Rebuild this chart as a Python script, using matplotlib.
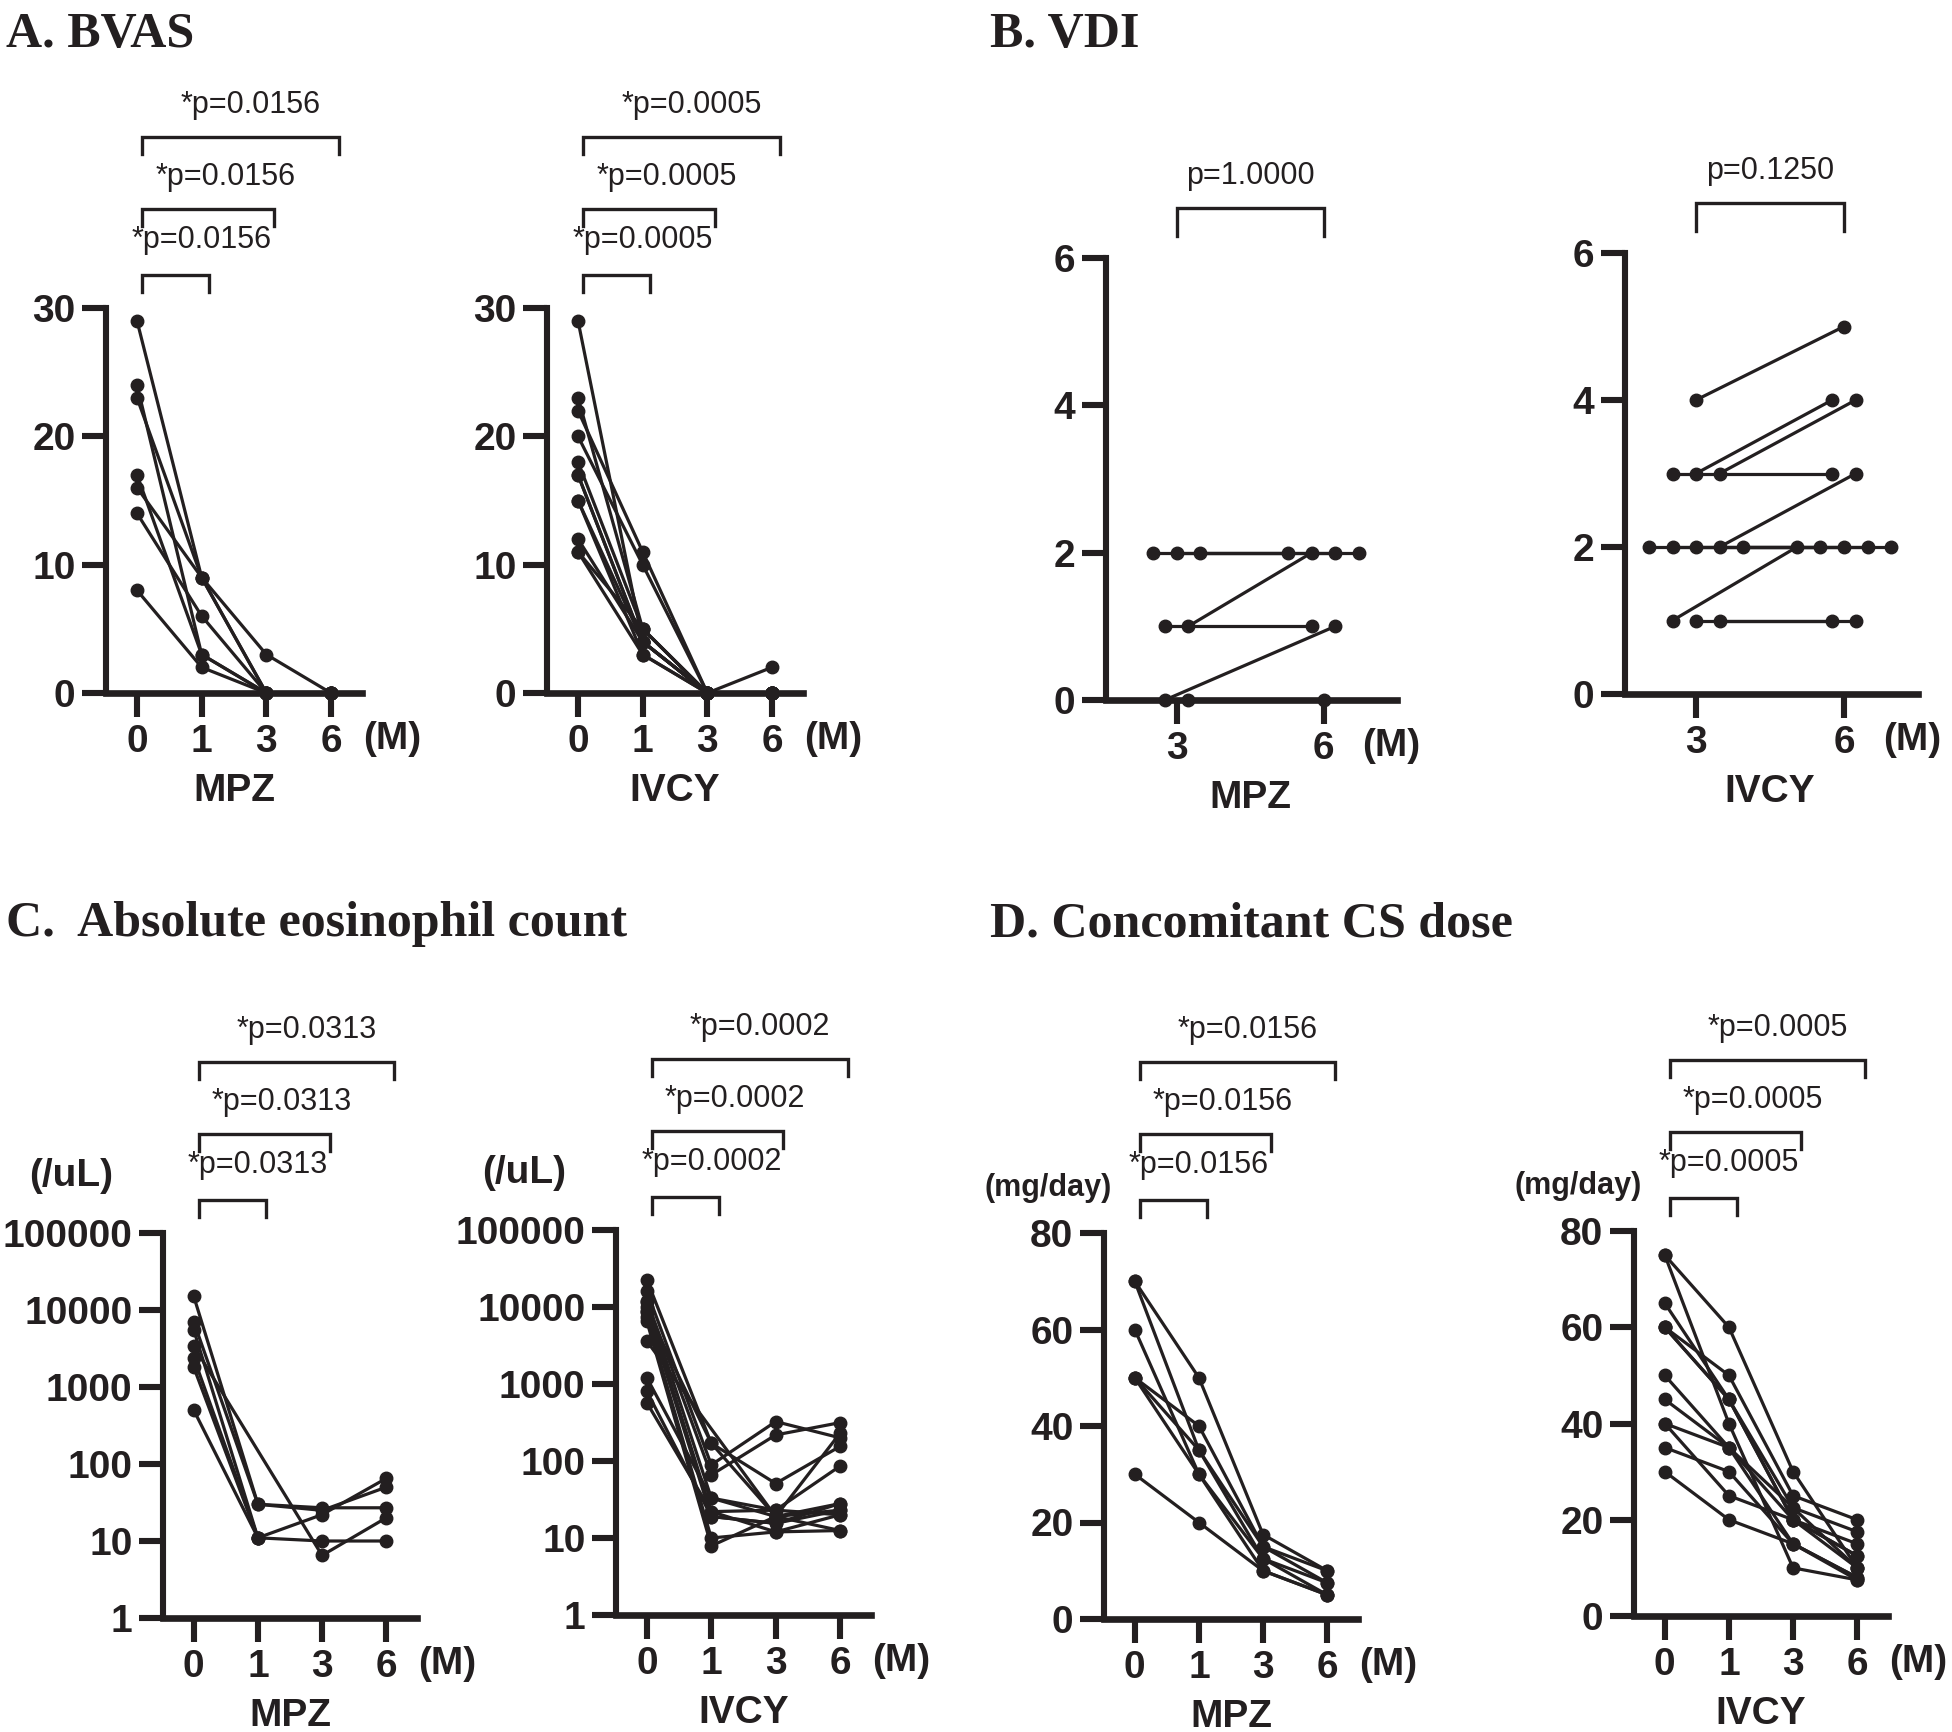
import numpy as np
import matplotlib
matplotlib.use("Agg")
import matplotlib.pyplot as plt
from matplotlib.transforms import blended_transform_factory

W, H = 1952, 1732
INK = "#231f20"
SANS = "Liberation Sans"
SERIF = "Liberation Serif"

months = ["0", "1", "3", "6"]
vdi_months = ["3", "6"]

# one row per patient, columns = month 0, 1, 3, 6
bvas_mpz = [[29, 9, 3, 0], [24, 3, 0, 0], [23, 9, 0, 0], [17, 3, 0, 0],
            [16, 9, 0, 0], [14, 6, 0, 0], [8, 2, 0, 0]]
bvas_ivcy = [[29, 4, 0, 0], [23, 5, 0, 0], [22, 11, 0, 2], [20, 10, 0, 0],
             [18, 5, 0, 0], [17, 4, 0, 0], [17, 4, 0, 0], [15, 3, 0, 0],
             [15, 4, 0, 0], [12, 4, 0, 0], [11, 3, 0, 0], [11, 5, 0, 0]]

# columns = month 3, 6
vdi_mpz = [[2, 2], [1, 1], [1, 2], [2, 2], [2, 2], [0, 1], [0, 0]]
vdi_ivcy = [[4, 5], [3, 3], [3, 4], [3, 4], [1, 2], [2, 2], [2, 2], [2, 2],
            [2, 3], [2, 2], [1, 1], [1, 1]]

nan = np.nan
eos_mpz = [[15000, 30, 27, 27], [7000, 30, 25, 50], [5500, 11, 22, 65],
           [3400, nan, 6.5, 20], [2400, 11, 10, 10], [1800, 11, nan, nan],
           [500, 11, nan, nan]]
eos_ivcy = [[22400, 170, 51, 155], [16000, 89, 325, 200], [12000, 66, 218, 315],
            [11700, 33, 19, 230], [10000, 22, 23, 86], [8700, 19, 15.5, 28],
            [7500, 10, 12, 20], [6500, 7.9, 19, 12.5], [3600, nan, 19, 23],
            [1200, 33, 23, 20], [800, 19, 15.5, 23], [570, 22, 12, 12.5],
            [9000, 170, 19, 28]]

cs_mpz = [[70, 50, 17.5, 10], [70, 35, 12.5, 7.5], [60, 30, 10, 5],
          [50, 40, 15, 10], [50, 30, 12.5, 5], [50, 35, 15, 7.5], [30, 20, 10, 5]]
cs_ivcy = [[75, 60, 30, 10], [75, 40, 10, 7.5], [65, 45, 22.5, 17.5],
           [60, 50, 25, 20], [60, 45, 20, 12.5], [50, 35, 20, 15],
           [45, 35, 22.5, 10], [40, 35, 15, 8], [40, 25, 20, 12.5],
           [35, 30, 15, 8], [30, 20, 15, 7.5], [60, 45, 20, 10]]

p_bvas_mpz = ["*p=0.0156", "*p=0.0156", "*p=0.0156"]
p_bvas_ivcy = ["*p=0.0005", "*p=0.0005", "*p=0.0005"]
p_vdi_mpz = "p=1.0000"
p_vdi_ivcy = "p=0.1250"
p_eos_mpz = ["*p=0.0313", "*p=0.0313", "*p=0.0313"]
p_eos_ivcy = ["*p=0.0002", "*p=0.0002", "*p=0.0002"]
p_cs_mpz = ["*p=0.0156", "*p=0.0156", "*p=0.0156"]
p_cs_ivcy = ["*p=0.0005", "*p=0.0005", "*p=0.0005"]

fig = plt.figure(figsize=(W / 100, H / 100), dpi=100)


def fy(y):
    return 1 - y / H


def make_axes(left, right, top, bottom):
    ax = fig.add_axes([left / W, fy(bottom), (right - left) / W, (bottom - top) / H])
    ax.box = (left, right, top, bottom)
    return ax


def spread(values, step=0.159):
    offs = np.zeros(len(values))
    for v in set(values):
        idx = [i for i, x in enumerate(values) if x == v]
        for k, i in enumerate(idx):
            offs[i] = (k - (len(idx) - 1) / 2) * step
    return offs


def draw_series(ax, rows, jitter=False):
    rows = np.array(rows, float)
    offs = np.zeros_like(rows)
    if jitter:
        for j in range(rows.shape[1]):
            offs[:, j] = spread(list(rows[:, j]))
    for i, r in enumerate(rows):
        x = np.arange(rows.shape[1]) + offs[i]
        m = ~np.isnan(r)
        ax.plot(x[m], r[m], color=INK, lw=2.3, marker="o", ms=9,
                clip_on=False, zorder=4)


def style_axes(ax, xlabels, yticks, ylabels, ylim, group, log=False):
    for s in ["top", "right"]:
        ax.spines[s].set_visible(False)
    ax.spines["left"].set_linewidth(4.4)
    ax.spines["bottom"].set_linewidth(4.8)
    for s in ["left", "bottom"]:
        ax.spines[s].set_color(INK)
    if log:
        ax.set_yscale("log")
    ax.set_ylim(*ylim)
    ax.set_yticks(yticks)
    ax.set_yticklabels(ylabels, fontsize=28, fontweight="bold", family=SANS, color=INK)
    ax.minorticks_off()
    n = len(xlabels)
    ax.set_xticks(range(n))
    ax.set_xticklabels(xlabels, fontsize=28, fontweight="bold", family=SANS, color=INK)
    ax.set_xlim(-0.48, n - 0.52 if n == 4 else 1.5)
    ax.tick_params(width=4.4, length=17, pad=5, color=INK)
    left, right, top, bottom = ax.box
    tr = blended_transform_factory(ax.transData, fig.transFigure)
    xm = 3.95 if n == 4 else 1.46
    ax.text(xm, fy(bottom + 46), "(M)", transform=tr, ha="center", va="center",
            fontsize=28, fontweight="bold", family=SANS, color=INK)
    ax.text((n - 1) / 2, fy(bottom + 98), group, transform=tr, ha="center", va="center",
            fontsize=28, fontweight="bold", family=SANS, color=INK)


def brackets(ax, texts):
    left, right, top, bottom = ax.box
    tr = blended_transform_factory(ax.transData, fig.transFigure)
    for k, t in enumerate(texts):
        yb = top - [33, 99, 171][k]
        x0, x1 = 0.08, k + 1.12
        ax.plot([x0, x0, x1, x1], [fy(yb + 17), fy(yb), fy(yb), fy(yb + 17)],
                transform=tr, color=INK, lw=2.4, clip_on=False, solid_joinstyle="miter")
        ax.text(x0 + [-0.17, 0.2, 0.59][k], fy(top - [68, 131, 203][k]), t,
                transform=tr, ha="left", va="center", fontsize=22, family=SANS, color=INK)
    ax.set_xlim(-0.48, 3.48)


def vdi_bracket(ax, text):
    left, right, top, bottom = ax.box
    tr = blended_transform_factory(ax.transData, fig.transFigure)
    yb = top - 50
    ax.plot([0, 0, 1, 1], [fy(yb + 28), fy(yb), fy(yb), fy(yb + 28)],
            transform=tr, color=INK, lw=2.4, clip_on=False, solid_joinstyle="miter")
    ax.text(0.5, fy(top - 82), text, transform=tr, ha="center", va="center",
            fontsize=22, family=SANS, color=INK)
    ax.set_xlim(-0.48, 1.5)


def unit_label(ax, text, dx, dy, size):
    left, right, top, bottom = ax.box
    fig.text((left - dx) / W, fy(top - dy), text, ha="center", va="center",
             fontsize=size, fontweight="bold", family=SANS, color=INK)


# A. BVAS
ax = make_axes(106, 362, 308, 693)
draw_series(ax, bvas_mpz)
style_axes(ax, months, [0, 10, 20, 30], ["0", "10", "20", "30"], (0, 30), "MPZ")
brackets(ax, p_bvas_mpz)

ax = make_axes(547, 803, 308, 693)
draw_series(ax, bvas_ivcy)
style_axes(ax, months, [0, 10, 20, 30], ["0", "10", "20", "30"], (0, 30), "IVCY")
brackets(ax, p_bvas_ivcy)

# B. VDI
ax = make_axes(1106, 1397, 258, 700)
draw_series(ax, vdi_mpz, jitter=True)
style_axes(ax, vdi_months, [0, 2, 4, 6], ["0", "2", "4", "6"], (0, 6), "MPZ")
vdi_bracket(ax, p_vdi_mpz)

ax = make_axes(1625, 1918, 253, 694)
draw_series(ax, vdi_ivcy, jitter=True)
style_axes(ax, vdi_months, [0, 2, 4, 6], ["0", "2", "4", "6"], (0, 6), "IVCY")
vdi_bracket(ax, p_vdi_ivcy)

# C. eosinophils
eos_ticks = [1, 10, 100, 1000, 10000, 100000]
eos_labels = ["1", "10", "100", "1000", "10000", "100000"]
ax = make_axes(163, 417, 1233, 1618)
draw_series(ax, eos_mpz)
style_axes(ax, months, eos_ticks, eos_labels, (1, 1e5), "MPZ", log=True)
brackets(ax, p_eos_mpz)
unit_label(ax, "(/uL)", 92, 57, 28)

ax = make_axes(616, 871, 1230, 1615)
draw_series(ax, eos_ivcy)
style_axes(ax, months, eos_ticks, eos_labels, (1, 1e5), "IVCY", log=True)
brackets(ax, p_eos_ivcy)
unit_label(ax, "(/uL)", 92, 57, 28)

# D. CS dose
cs_ticks = [0, 20, 40, 60, 80]
cs_labels = ["0", "20", "40", "60", "80"]
ax = make_axes(1104, 1358, 1233, 1619)
draw_series(ax, cs_mpz)
style_axes(ax, months, cs_ticks, cs_labels, (0, 80), "MPZ")
brackets(ax, p_cs_mpz)
unit_label(ax, "(mg/day)", 56, 45, 22)

ax = make_axes(1634, 1888, 1231, 1616)
draw_series(ax, cs_ivcy)
style_axes(ax, months, cs_ticks, cs_labels, (0, 80), "IVCY")
brackets(ax, p_cs_ivcy)
unit_label(ax, "(mg/day)", 56, 45, 22)

# panel titles
for x, y, t in [(6, 47, "A. BVAS"), (990, 47, "B. VDI"),
                (6, 936, "C.  Absolute eosinophil count"),
                (990, 936, "D. Concomitant CS dose")]:
    fig.text(x / W, fy(y), t, ha="left", va="baseline", fontsize=36,
             fontweight="bold", family=SERIF, color=INK)

fig.savefig("out.png", dpi=100)
